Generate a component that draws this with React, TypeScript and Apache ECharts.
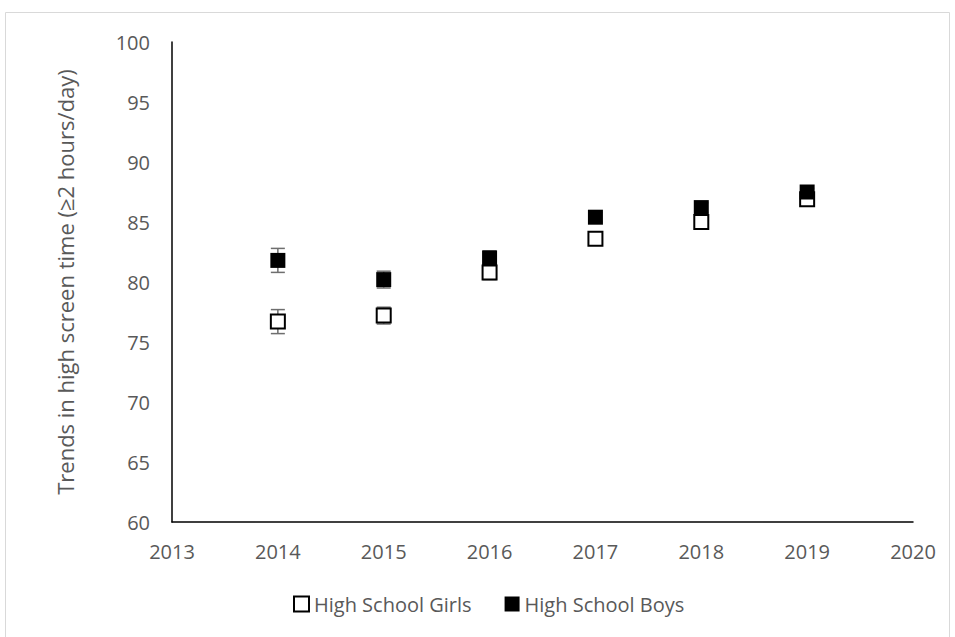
import React, { useEffect, useRef } from "react";
import * as echarts from "echarts";

const years = [2014, 2015, 2016, 2017, 2018, 2019];
const girls = [76.7, 77.2, 80.8, 83.6, 85.0, 86.9];
const boys = [81.8, 80.2, 82.0, 85.4, 86.2, 87.5];
const girlsErr = [1.0, 0.7, 0.6, 0.4, 0.4, 0.3];
const boysErr = [1.0, 0.7, 0.6, 0.4, 0.4, 0.3];
const seriesNames = ["High School Girls", "High School Boys"];
const yTitle = "Trends in high screen time (≥2 hours/day)";

const FONT = "Open Sans";
const GRAY = "#595959";

function errorSeries(vals: number[], errs: number[]) {
  return {
    type: "custom",
    silent: true,
    z: 1,
    data: years.map((yr, i) => [yr, vals[i], errs[i]]),
    renderItem: (params: any, api: any) => {
      const x = api.value(0);
      const y = api.value(1);
      const e = api.value(2);
      const top = api.coord([x, y + e]);
      const bot = api.coord([x, y - e]);
      const cap = 7;
      const style = { stroke: "#6e6e6e", lineWidth: 1.5 };
      return {
        type: "group",
        children: [
          { type: "line", shape: { x1: top[0], y1: top[1], x2: bot[0], y2: bot[1] }, style },
          { type: "line", shape: { x1: top[0] - cap, y1: top[1], x2: top[0] + cap, y2: top[1] }, style },
          { type: "line", shape: { x1: bot[0] - cap, y1: bot[1], x2: bot[0] + cap, y2: bot[1] }, style },
        ],
      };
    },
  };
}

export default function App() {
  const ref = useRef<HTMLDivElement>(null);
  useEffect(() => {
    if (!ref.current) return;
    const chart = echarts.init(ref.current, undefined, { renderer: "svg" });
    chart.setOption({
      animation: false,
      backgroundColor: "#ffffff",
      textStyle: { fontFamily: FONT },
      graphic: [
        {
          type: "rect",
          shape: { x: 5.5, y: 12.5, width: 944, height: 700 },
          style: { fill: "none", stroke: "#d9d9d9", lineWidth: 1 },
          silent: true,
          z: -10,
        },
      ],
      grid: { left: 172, right: 42, top: 42, bottom: 115 },
      legend: {
        bottom: 18,
        left: 288,
        itemWidth: 15,
        itemHeight: 15,
        itemGap: 33,
        icon: "rect",
        textStyle: { color: GRAY, fontSize: 20, fontFamily: FONT, padding: [0, 0, 0, 0] },
        data: [
          { name: seriesNames[0], itemStyle: { color: "#ffffff", borderColor: "#000", borderWidth: 2, opacity: 1 } },
          { name: seriesNames[1], itemStyle: { color: "#000000", opacity: 1 } },
        ],
      },
      xAxis: {
        type: "value",
        min: 2013,
        max: 2020,
        interval: 1,
        axisLine: { show: true, onZero: false, lineStyle: { color: "#000", width: 1.5 } },
        axisTick: { show: false },
        splitLine: { show: false },
        axisLabel: { color: GRAY, fontSize: 20, fontFamily: FONT, margin: 19, formatter: (v: number) => String(v) },
      },
      yAxis: {
        type: "value",
        min: 60,
        max: 100,
        interval: 5,
        name: yTitle,
        nameLocation: "middle",
        nameGap: 96,
        nameTextStyle: { color: GRAY, fontSize: 22, fontFamily: FONT },
        axisLine: { show: true, lineStyle: { color: "#000", width: 1.5 } },
        axisTick: { show: false },
        splitLine: { show: false },
        axisLabel: { color: GRAY, fontSize: 20, fontFamily: FONT, margin: 22 },
      },
      series: [
        errorSeries(girls, girlsErr),
        errorSeries(boys, boysErr),
        {
          name: seriesNames[0],
          type: "scatter",
          z: 3,
          symbol: "rect",
          symbolSize: 14,
          itemStyle: { color: "#ffffff", borderColor: "#000000", borderWidth: 2, opacity: 1 },
          data: years.map((yr, i) => [yr, girls[i]]),
        },
        {
          name: seriesNames[1],
          type: "scatter",
          z: 4,
          symbol: "rect",
          symbolSize: 15,
          itemStyle: { color: "#000000", opacity: 1 },
          data: years.map((yr, i) => [yr, boys[i]]),
        },
      ],
    });
    return () => chart.dispose();
  }, []);
  return <div ref={ref} style={{ position: "fixed", left: 0, top: 0, width: 955, height: 637 }} />;
}
